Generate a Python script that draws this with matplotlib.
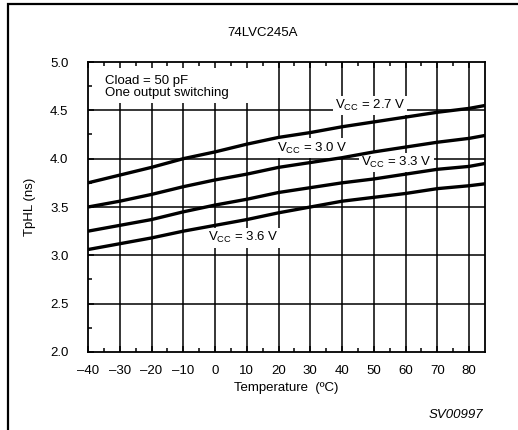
import matplotlib
matplotlib.use("Agg")
import matplotlib.pyplot as plt
from matplotlib.patches import Rectangle
from matplotlib.ticker import FixedLocator

plt.rcParams['font.family'] = ['Liberation Sans', 'DejaVu Sans']
plt.rcParams['mathtext.default'] = 'regular'

# Propagation delay vs. temperature for four supply voltages
temps = [-40, -30, -20, -10, 0, 10, 20, 30, 40, 50, 60, 70, 80, 85]
tphl_27 = [3.75, 3.83, 3.91, 4.00, 4.07, 4.15, 4.22, 4.27, 4.33, 4.38, 4.43, 4.48, 4.52, 4.55]
tphl_30 = [3.50, 3.56, 3.63, 3.71, 3.78, 3.84, 3.91, 3.96, 4.01, 4.07, 4.12, 4.17, 4.21, 4.24]
tphl_33 = [3.25, 3.31, 3.37, 3.45, 3.52, 3.58, 3.65, 3.70, 3.75, 3.79, 3.84, 3.89, 3.92, 3.95]
tphl_36 = [3.06, 3.12, 3.18, 3.25, 3.31, 3.37, 3.44, 3.50, 3.56, 3.60, 3.64, 3.69, 3.72, 3.74]

series = [tphl_27, tphl_30, tphl_33, tphl_36]
curve_labels = [r"V$_{CC}$ = 2.7 V", r"V$_{CC}$ = 3.0 V",
                r"V$_{CC}$ = 3.3 V", r"V$_{CC}$ = 3.6 V"]
label_pos = [(48.8, 4.55), (30.6, 4.11), (57.0, 3.96), (8.8, 3.18)]

xticks = [-40, -30, -20, -10, 0, 10, 20, 30, 40, 50, 60, 70, 80]
xticklabels = ["–40", "–30", "–20", "–10", "0", "10", "20", "30", "40", "50", "60", "70", "80"]
yticks = [2.0, 2.5, 3.0, 3.5, 4.0, 4.5, 5.0]
yticklabels = ["2.0", "2.5", "3.0", "3.5", "4.0", "4.5", "5.0"]

FS = 9.5
W, H = 518, 430
fig = plt.figure(figsize=(W / 100, H / 100), dpi=100)
ax = fig.add_axes([88 / W, (H - 352) / H, 397 / W, 290 / H])
ax.set_axisbelow(False)

ax.set_xlim(-40, 85)
ax.set_ylim(2.0, 5.0)

# grid drawn by hand so labels can sit on top of it
for x in xticks[1:]:
    ax.axvline(x, color='black', lw=1.1, zorder=1)
for y in yticks[1:-1]:
    ax.axhline(y, color='black', lw=1.1, zorder=1)

for vals in series:
    ax.plot(temps, vals, color='black', lw=2.4, zorder=3, solid_capstyle='butt')

for txt, (tx, ty) in zip(curve_labels, label_pos):
    ax.text(tx, ty, txt, ha='center', va='center', fontsize=FS, zorder=2,
            bbox=dict(facecolor='white', edgecolor='none', pad=1.5))

# blank area behind the conditions note
ax.add_patch(Rectangle((-40, 4.58), 52.5, 0.42, facecolor='white',
                       edgecolor='none', zorder=2))
ax.text(-34.6, 4.87, "Cload = 50 pF\nOne output switching", ha='left', va='top',
        fontsize=FS, linespacing=1.0, zorder=2.2)

ax.set_xticks(xticks)
ax.set_xticklabels(xticklabels)
ax.set_yticks(yticks)
ax.set_yticklabels(yticklabels)
ax.xaxis.set_minor_locator(FixedLocator([-35, -25, -15, -5, 5, 15, 25, 35, 45, 55, 65, 75]))
ax.yaxis.set_minor_locator(FixedLocator([2.25, 2.75, 3.25, 3.75, 4.25, 4.75]))
ax.tick_params(axis='x', which='both', direction='in', top=True, bottom=True,
               labelsize=FS, pad=9)
ax.tick_params(axis='y', which='both', direction='in', left=True, right=False,
               labelsize=FS, pad=14)
ax.tick_params(which='major', length=4, width=1.1)
ax.tick_params(which='minor', length=3, width=1.1)

for sp in ax.spines.values():
    sp.set_linewidth(1.3)

ax.set_xlabel("Temperature  (ºC)", fontsize=FS)
ax.xaxis.set_label_coords(0.5, -(382 - 352) / 290)
ax.set_ylabel("TpHL (ns)", fontsize=FS)
ax.yaxis.set_label_coords((36 - 88) / 397, 0.5)

fig.text(263 / W, 1 - 33 / H, "74LVC245A", ha='center', va='center', fontsize=FS)
fig.text(483 / W, 1 - 415 / H, "SV00997", ha='right', va='center', fontsize=FS,
         style='italic')

# outer frame
fig.patches.append(Rectangle((8 / W, -0.2), 1.2, 1 - 4 / H + 0.2,
                             transform=fig.transFigure, fill=False,
                             edgecolor='black', lw=1.6))

fig.savefig("out.png", dpi=100, facecolor='white')
